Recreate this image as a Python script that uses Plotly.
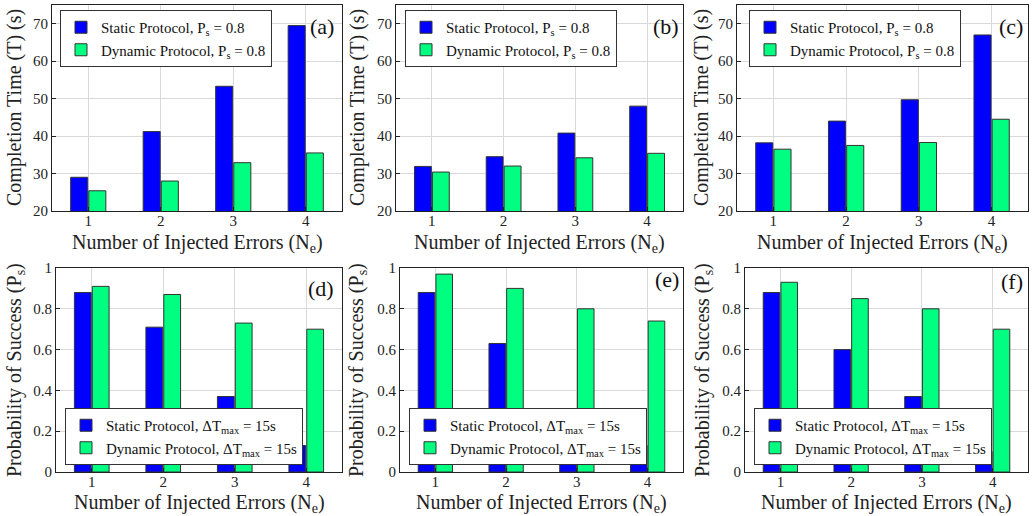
import plotly.graph_objects as go

categories = [1, 2, 3, 4]

# Completion time (top row), P_s = 0.8
static_time_a = [29.0, 41.2, 53.3, 69.5]
dynamic_time_a = [25.4, 28.0, 32.9, 35.5]
static_time_b = [31.9, 34.5, 40.8, 48.0]
dynamic_time_b = [30.4, 32.0, 34.2, 35.4]
static_time_c = [38.2, 44.0, 49.7, 67.0]
dynamic_time_c = [36.5, 37.5, 38.3, 44.5]

# Probability of success (bottom row), dT_max = 15 s
static_ps_d = [0.88, 0.71, 0.37, 0.13]
dynamic_ps_d = [0.91, 0.87, 0.73, 0.70]
static_ps_e = [0.88, 0.63, 0.31, 0.13]
dynamic_ps_e = [0.97, 0.90, 0.80, 0.74]
static_ps_f = [0.88, 0.60, 0.37, 0.10]
dynamic_ps_f = [0.93, 0.85, 0.80, 0.70]

panel_labels = ["(a)", "(b)", "(c)", "(d)", "(e)", "(f)"]
time_ticks = [20, 30, 40, 50, 60, 70]
ps_ticks = [0, 0.2, 0.4, 0.6, 0.8, 1]
ps_ticktext = ["0", "0.2", "0.4", "0.6", "0.8", "1"]
x_title = "Number of Injected Errors (N<sub>e</sub>)"
y_title_top = "Completion Time (T) (s)"
y_title_bottom = "Probability of Success (P<sub>s</sub>)"

W, H = 1032, 516
FONT = "Liberation Serif"
BLUE = "#0000FF"
GREEN = "#00FF80"

def px_x(v):
    return v / W

def px_y(v):
    return 1 - v / H

panels = [
    # (x0, x1, ytop, ybottom) in pixels
    (52, 342, 5, 211),
    (396, 683, 5, 211),
    (737, 1028, 5, 211),
    (56, 342, 268, 472),
    (400, 683, 268, 472),
    (745, 1028, 268, 472),
]

data_sets = [
    (static_time_a, dynamic_time_a),
    (static_time_b, dynamic_time_b),
    (static_time_c, dynamic_time_c),
    (static_ps_d, dynamic_ps_d),
    (static_ps_e, dynamic_ps_e),
    (static_ps_f, dynamic_ps_f),
]

legend_pos = [
    (60, 10, "top"),
    (405, 10, "top"),
    (749, 10, "top"),
    (65, 465, "bottom"),
    (409, 465, "bottom"),
    (754, 465, "bottom"),
]

label_pos = [
    (336, 27), (681, 27), (1025, 27),
    (336, 288), (681, 279), (1025, 281),
]

ytitle_x = [14, 357, 701, 15, 357, 703]
xtitle_y = [244, 244, 244, 503, 503, 503]

fig = go.Figure()
layout = dict(
    width=W, height=H,
    margin=dict(l=0, r=0, t=0, b=0, autoexpand=False),
    paper_bgcolor="white", plot_bgcolor="white",
    barmode="group", bargap=0.5, bargroupgap=0.06,
    font=dict(family=FONT, color="#222222", size=15),
    annotations=[],
)

for i, ((x0, x1, yt, yb), (s_vals, d_vals)) in enumerate(zip(panels, data_sets)):
    n = i + 1
    xa = "x" if n == 1 else f"x{n}"
    ya = "y" if n == 1 else f"y{n}"
    lg = "legend" if n == 1 else f"legend{n}"
    top = i < 3
    if top:
        sname = "Static Protocol, P<sub>s</sub> = 0.8"
        dname = "Dynamic Protocol, P<sub>s</sub> = 0.8"
    else:
        sname = "Static Protocol, ΔT<sub>max</sub> = 15s"
        dname = "Dynamic Protocol, ΔT<sub>max</sub> = 15s"
    fig.add_trace(go.Bar(x=categories, y=s_vals, name=sname, xaxis=xa, yaxis=ya,
                         legend=lg, offsetgroup="s",
                         marker=dict(color=BLUE, line=dict(color="#333333", width=1))))
    fig.add_trace(go.Bar(x=categories, y=d_vals, name=dname, xaxis=xa, yaxis=ya,
                         legend=lg, offsetgroup="d",
                         marker=dict(color=GREEN, line=dict(color="#333333", width=1))))

    xkey = "xaxis" if n == 1 else f"xaxis{n}"
    ykey = "yaxis" if n == 1 else f"yaxis{n}"
    layout[xkey] = dict(
        domain=[px_x(x0), px_x(x1)], anchor=ya, range=[0.5, 4.5],
        tickvals=categories, ticktext=[str(c) for c in categories],
        showgrid=True, gridcolor="#d9d9d9", gridwidth=1,
        showline=True, linecolor="#222222", linewidth=1, mirror=True,
        ticks="inside", ticklen=4, tickcolor="#222222",
        tickfont=dict(size=15, family=FONT), ticklabelstandoff=-4,
        zeroline=False, fixedrange=True, automargin=False,
    )
    if top:
        yr, tv, tt = [20, 75], time_ticks, [str(t) for t in time_ticks]
        ytitle = y_title_top
    else:
        yr, tv, tt = [0, 1], ps_ticks, ps_ticktext
        ytitle = y_title_bottom
    layout[ykey] = dict(
        domain=[px_y(yb), px_y(yt)], anchor=xa, range=yr,
        tickvals=tv, ticktext=tt,
        showgrid=True, gridcolor="#d9d9d9", gridwidth=1,
        showline=True, linecolor="#222222", linewidth=1, mirror=True,
        ticks="inside", ticklen=4, tickcolor="#222222",
        tickfont=dict(size=15, family=FONT),
        zeroline=False, fixedrange=True, automargin=False,
    )
    lx, ly, anc = legend_pos[i]
    layout[lg] = dict(
        x=px_x(lx), y=px_y(ly), xanchor="left", yanchor=anc,
        xref="container", yref="container",
        bgcolor="white", bordercolor="#333333", borderwidth=1,
        font=dict(size=15, family=FONT, color="#111111"),
        tracegroupgap=0, itemwidth=30, traceorder="normal",
    )
    ax_, ay_ = label_pos[i]
    layout["annotations"].append(dict(
        text=panel_labels[i], x=px_x(ax_), y=px_y(ay_), xref="paper", yref="paper",
        xanchor="right", yanchor="middle", showarrow=False,
        font=dict(size=22, family=FONT, color="#111111"),
    ))
    # axis titles
    layout["annotations"].append(dict(
        text=x_title, x=px_x((x0 + x1) / 2), y=px_y(xtitle_y[i]),
        xref="paper", yref="paper", xanchor="center", yanchor="middle",
        showarrow=False, font=dict(size=20, family=FONT, color="#222222"),
    ))
    layout["annotations"].append(dict(
        text=ytitle, x=px_x(ytitle_x[i]), y=px_y((yt + yb) / 2),
        xref="paper", yref="paper", xanchor="center", yanchor="middle",
        textangle=-90, showarrow=False,
        font=dict(size=20, family=FONT, color="#222222"),
    ))

fig.update_layout(**layout)
fig.write_html(
    "out.html",
    config={"displayModeBar": False, "staticPlot": True},
    post_script="document.body.style.margin='0';document.body.style.overflow='hidden';",
)
